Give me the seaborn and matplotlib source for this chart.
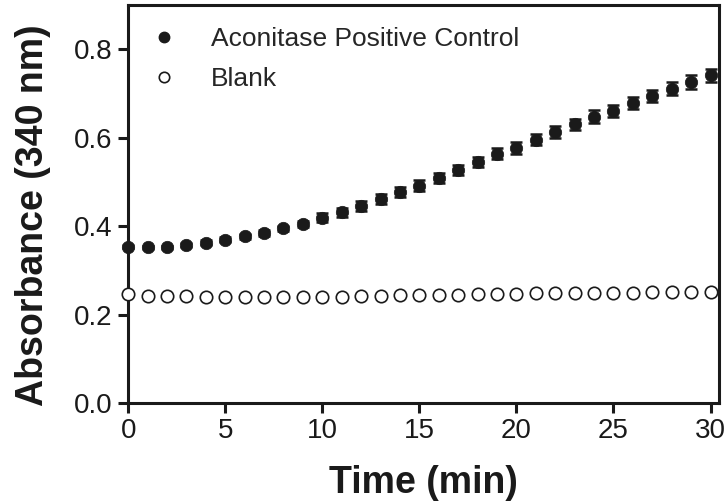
import matplotlib
matplotlib.use("Agg")
import matplotlib.pyplot as plt
from matplotlib.lines import Line2D
import pandas as pd
import seaborn as sns

# data
time_min = list(range(31))
positive_control = [0.354, 0.352, 0.352, 0.358, 0.363, 0.370, 0.377, 0.385, 0.395, 0.405,
                    0.419, 0.432, 0.445, 0.462, 0.477, 0.492, 0.509, 0.527, 0.545, 0.564,
                    0.577, 0.596, 0.613, 0.630, 0.648, 0.661, 0.678, 0.695, 0.711, 0.726,
                    0.741]
positive_err = [0.004, 0.004, 0.004, 0.004, 0.005, 0.005, 0.005, 0.006, 0.006, 0.007,
                0.010, 0.010, 0.011, 0.011, 0.011, 0.012, 0.012, 0.012, 0.012, 0.013,
                0.013, 0.013, 0.013, 0.013, 0.014, 0.014, 0.014, 0.014, 0.015, 0.015,
                0.015]
blank = [0.247, 0.243, 0.242, 0.242, 0.241, 0.240, 0.240, 0.240, 0.240, 0.241,
         0.241, 0.241, 0.242, 0.243, 0.244, 0.244, 0.245, 0.245, 0.246, 0.247,
         0.247, 0.248, 0.248, 0.249, 0.249, 0.250, 0.250, 0.251, 0.251, 0.252,
         0.252]

df = pd.DataFrame({"time": time_min, "control": positive_control,
                   "err": positive_err, "blank": blank})

sns.set_theme(style="ticks")
plt.rcParams['font.family'] = ['Liberation Sans', 'DejaVu Sans']

ink = "#1a1a1a"

fig = plt.figure(figsize=(7.28, 5.04), dpi=100)
ax = fig.add_axes([0.176, 0.200, 0.812, 0.790])

# error bars for the positive control
ax.errorbar(df["time"], df["control"], yerr=df["err"], fmt="none",
            ecolor=ink, elinewidth=1.8, capsize=4, capthick=1.8, zorder=2,
            clip_on=False)
sns.scatterplot(data=df, x="time", y="control", ax=ax, color=ink,
                s=80, edgecolor=ink, linewidth=0.5, zorder=3, clip_on=False)
sns.scatterplot(data=df, x="time", y="blank", ax=ax, facecolor="white",
                edgecolor=ink, s=80, linewidth=1.2, zorder=3, clip_on=False)

ax.set_xlim(0, 30.45)
ax.set_ylim(0, 0.9)
ax.set_xticks([0, 5, 10, 15, 20, 25, 30])
ax.set_yticks([0.0, 0.2, 0.4, 0.6, 0.8])
ax.set_yticklabels(["0.0", "0.2", "0.4", "0.6", "0.8"])

for side in ["left", "bottom", "top", "right"]:
    ax.spines[side].set_linewidth(2.2)
    ax.spines[side].set_color(ink)
ax.tick_params(axis="both", which="major", direction="out", length=7.5, width=2.2,
               color=ink, labelsize=20, labelcolor=ink, pad=3.5)
ax.tick_params(top=False, right=False)

ax.set_xlabel("Time (min)", fontsize=27, fontweight="bold", color=ink, labelpad=15)
ax.set_ylabel("Absorbance (340 nm)", fontsize=27, fontweight="bold", color=ink)
ax.yaxis.set_label_coords(-0.130, 0.472)

handles = [
    Line2D([], [], linestyle="none", marker="o", markersize=7.5,
           markerfacecolor=ink, markeredgecolor=ink),
    Line2D([], [], linestyle="none", marker="o", markersize=7.5,
           markerfacecolor="white", markeredgecolor=ink, markeredgewidth=1.2),
]
ax.legend(handles, ["Aconitase Positive Control", "Blank"], loc="upper left",
          bbox_to_anchor=(0.0, 1.0), frameon=False, fontsize=19,
          handlelength=1.0, handletextpad=1.28, labelspacing=0.6,
          borderaxespad=0.5, borderpad=0.35)

plt.savefig("out.png", dpi=100)
plt.close()
